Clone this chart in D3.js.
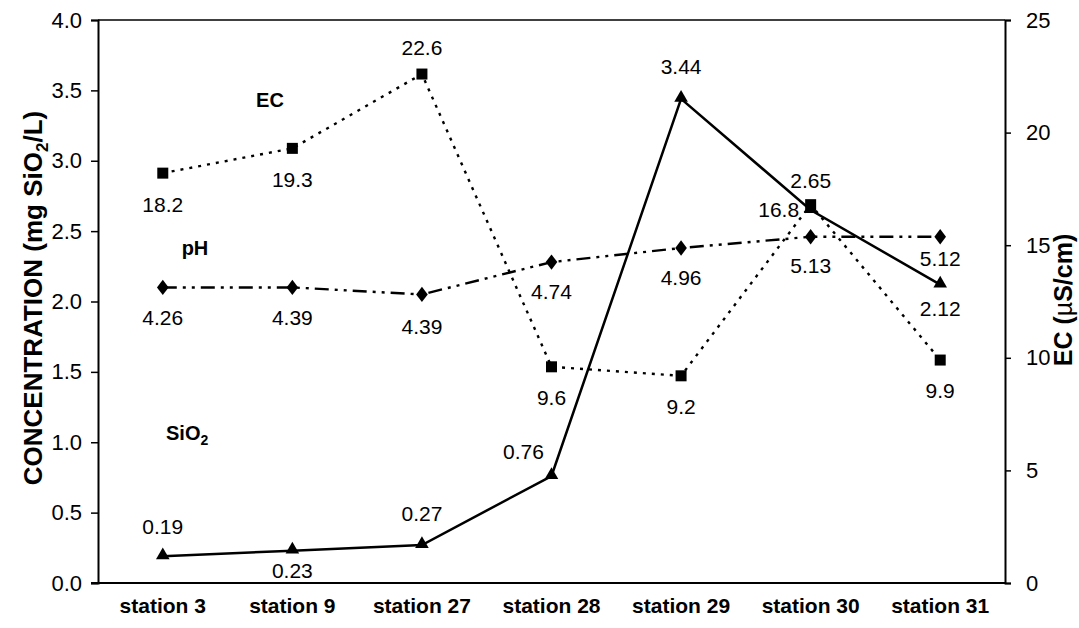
<!DOCTYPE html>
<html>
<head>
<meta charset="utf-8">
<script src="https://cdn.jsdelivr.net/npm/d3@7"></script>
<style>
  body { margin: 0; background: #fff; }
  svg { display: block; font-family: "Liberation Sans", Arial, sans-serif; }
</style>
</head>
<body>
<svg id="chart" width="1079" height="628"></svg>
<script>
// ---- data ----
const stations = ["station 3", "station 9", "station 27", "station 28", "station 29", "station 30", "station 31"];
const sio2 = [0.19, 0.23, 0.27, 0.76, 3.44, 2.65, 2.12];          // left axis (mg SiO2/L)
const ec = [18.2, 19.3, 22.6, 9.6, 9.2, 16.8, 9.9];               // right axis (µS/cm)
const phPlotted = [2.1, 2.1, 2.05, 2.28, 2.38, 2.46, 2.46];       // position on left axis as drawn
const phLabels = ["4.26", "4.39", "4.39", "4.74", "4.96", "5.13", "5.12"];
const leftTicks = [0, 0.5, 1.0, 1.5, 2.0, 2.5, 3.0, 3.5, 4.0];
const rightTicks = [0, 5, 10, 15, 20, 25];

// label placement (layout only): [dx, dy] of label centre relative to marker
const sio2LabelOff = [[0,-30],[0,20],[0,-31],[-28,-24],[0,-32],[0,-29],[0,24]];
const ecLabelOff = [[0,32],[0,31],[0,-26],[0,31],[0,31],[-32,5],[0,31]];
const phLabelOff = [[0,30],[0,30],[0,32],[0,30],[0,30],[0,29],[0,22]];

// ---- layout ----
const svg = d3.select("#chart");
const L = 98, R = 1005, T = 20, B = 583;
const FS = 21;

const x = d3.scaleBand().domain(stations).range([L, R]);
const yL = d3.scaleLinear().domain([0, 4]).range([B, T]);
const yR = d3.scaleLinear().domain([0, 25]).range([B, T]);
const cx = d => x(d) + x.bandwidth() / 2;

// axes
const leftAxis = d3.axisLeft(yL).tickValues(leftTicks).tickFormat(d3.format(".1f")).tickSize(7).tickPadding(9);
const gL = svg.append("g").attr("transform", `translate(${L},0)`).call(leftAxis);
const rightAxis = d3.axisRight(yR).tickValues(rightTicks).tickFormat(d3.format("d")).tickSize(6).tickPadding(15);
const gR = svg.append("g").attr("transform", `translate(${R},0)`).call(rightAxis);
[gL, gR].forEach(g => {
  g.attr("font-size", 22).attr("font-family", "Liberation Sans, Arial, sans-serif");
  g.select(".domain").attr("stroke", "#000").attr("stroke-width", 2);
  g.selectAll(".tick line").attr("stroke", "#000").attr("stroke-width", 1.5);
  g.selectAll(".tick text").attr("fill", "#000");
});
// bottom axis line
svg.append("line").attr("x1", L - 7).attr("x2", R).attr("y1", B).attr("y2", B)
  .attr("stroke", "#000").attr("stroke-width", 2);
// top border
svg.append("line").attr("x1", L).attr("x2", R).attr("y1", T).attr("y2", T)
  .attr("stroke", "#000").attr("stroke-width", 1.5);

// category labels
svg.append("g").selectAll("text").data(stations).join("text")
  .attr("x", d => cx(d)).attr("y", 613)
  .attr("text-anchor", "middle").attr("font-size", FS).attr("font-weight", "bold")
  .text(d => d);

// axis titles
const lt = svg.append("text").attr("transform", `translate(42,298) rotate(-90)`)
  .attr("text-anchor", "middle").attr("font-size", 26).attr("font-weight", "bold");
lt.append("tspan").text("CONCENTRATION (mg SiO");
lt.append("tspan").attr("font-size", 17).attr("dy", 6).text("2");
lt.append("tspan").attr("dy", -6).text("/L)");

const rt = svg.append("text").attr("transform", `translate(1072,300) rotate(-90)`)
  .attr("text-anchor", "middle").attr("font-size", 25).attr("font-weight", "bold");
rt.append("tspan").text("EC (");
rt.append("tspan").attr("font-weight", "normal").text("\u00B5");
rt.append("tspan").text("S/cm)");

// ---- series ----
const idx = d3.range(stations.length);

// EC (dotted)
const ecLine = d3.line().x(i => cx(stations[i])).y(i => yR(ec[i]));
svg.append("path").attr("d", ecLine(idx)).attr("fill", "none").attr("stroke", "#000")
  .attr("stroke-width", 2.4).attr("stroke-dasharray", "3,6");

// pH (dash-dot-dot)
const phLine = d3.line().x(i => cx(stations[i])).y(i => yL(phPlotted[i]));
svg.append("path").attr("d", phLine(idx)).attr("fill", "none").attr("stroke", "#000")
  .attr("stroke-width", 2.4).attr("stroke-dasharray", "14,6,3,6,3,6");

// SiO2 (solid)
const sLine = d3.line().x(i => cx(stations[i])).y(i => yL(sio2[i]));
svg.append("path").attr("d", sLine(idx)).attr("fill", "none").attr("stroke", "#000")
  .attr("stroke-width", 2.5);

// markers
svg.append("g").selectAll("rect").data(idx).join("rect")
  .attr("x", i => cx(stations[i]) - 5.5).attr("y", i => yR(ec[i]) - 5.5)
  .attr("width", 11).attr("height", 11).attr("fill", "#000");

const tri = d3.symbol().type(d3.symbolTriangle).size(80);
svg.append("g").selectAll("path").data(idx).join("path")
  .attr("d", tri).attr("transform", i => `translate(${cx(stations[i])},${yL(sio2[i]) - 1})`)
  .attr("fill", "#000");

const dia = d3.symbol().type(d3.symbolDiamond).size(75);
svg.append("g").selectAll("path").data(idx).join("path")
  .attr("d", dia).attr("transform", i => `translate(${cx(stations[i])},${yL(phPlotted[i])}) scale(1.25,0.95)`)
  .attr("fill", "#000");

// data labels
function labels(values, yfn, offs) {
  svg.append("g").selectAll("text").data(idx).join("text")
    .attr("x", i => cx(stations[i]) + offs[i][0])
    .attr("y", i => yfn(i) + offs[i][1])
    .attr("dy", "0.35em")
    .attr("text-anchor", "middle")
    .attr("font-size", FS)
    .text(i => values[i]);
}
labels(sio2.map(v => v.toFixed(2)), i => yL(sio2[i]), sio2LabelOff);
labels(ec.map(v => v.toFixed(1)), i => yR(ec[i]), ecLabelOff);
labels(phLabels, i => yL(phPlotted[i]), phLabelOff);

// series name labels
svg.append("text").attr("x", 270).attr("y", 107).attr("text-anchor", "middle")
  .attr("font-size", 20).attr("font-weight", "bold").text("EC");
svg.append("text").attr("x", 195).attr("y", 255).attr("text-anchor", "middle")
  .attr("font-size", 20).attr("font-weight", "bold").text("pH");
const st = svg.append("text").attr("x", 166).attr("y", 440)
  .attr("font-size", 20).attr("font-weight", "bold");
st.append("tspan").text("SiO");
st.append("tspan").attr("font-size", 14).attr("dy", 5).text("2");
</script>
</body>
</html>
